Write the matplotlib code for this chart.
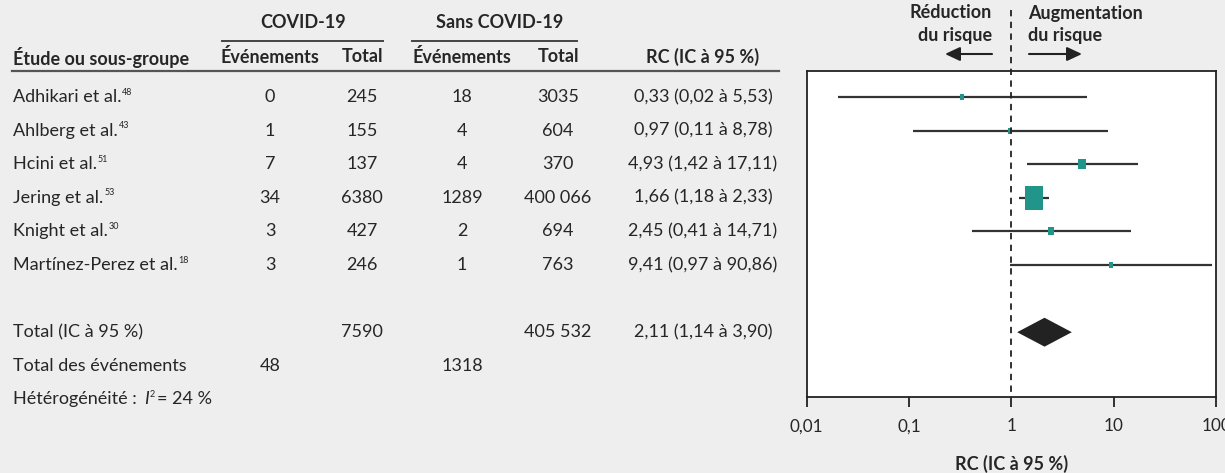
import matplotlib
matplotlib.use("Agg")
import matplotlib.pyplot as plt
from matplotlib.path import Path
from matplotlib import transforms

# ---- data -------------------------------------------------------------
studies = ["Adhikari et al.", "Ahlberg et al.", "Hcini et al.",
           "Jering et al.", "Knight et al.", "Martínez-Perez et al."]
refs = ["48", "43", "51", "53", "30", "18"]
covid_events = ["0", "1", "7", "34", "3", "3"]
covid_total = ["245", "155", "137", "6380", "427", "246"]
nocovid_events = ["18", "4", "4", "1289", "2", "1"]
nocovid_total = ["3035", "604", "370", "400 066", "694", "763"]
odds_ratio = [0.33, 0.97, 4.93, 1.66, 2.45, 9.41]
ci_low = [0.02, 0.11, 1.42, 1.18, 0.41, 0.97]
ci_high = [5.53, 8.78, 17.11, 2.33, 14.71, 90.86]
weights = [5, 5, 14, 63, 8, 5]          # study weights (%)
pooled = [2.11, 1.14, 3.90]             # OR, lower, upper
total_covid = "7590"
total_nocovid = "405 532"
events_covid = "48"
events_nocovid = "1318"
i2_value = 24
xticks = [0.01, 0.1, 1, 10, 100]
xtick_labels = ["0,01", "0,1", "1", "10", "100"]

# ---- style ------------------------------------------------------------
FONT = "Lato"
plt.rcParams["font.family"] = [FONT, "DejaVu Sans"]
BG = "#eeeeee"
TXT = "#262626"
TEAL = "#22958b"
FS = 13
SUP = 6.5

W, H = 1225, 473
fig = plt.figure(figsize=(W / 100, H / 100), dpi=100, facecolor=BG)

# overlay in pixel coordinates for the table part
ov = fig.add_axes([0, 0, 1, 1], zorder=0)
ov.set_xlim(0, W)
ov.set_ylim(H, 0)
ov.axis("off")

# forest plot axes
left, right, top, bottom = 806.7, 1216, 71, 397
ax = fig.add_axes([left / W, (H - bottom) / H, (right - left) / W, (bottom - top) / H], zorder=2)
ax.set_facecolor("white")
ax.set_xscale("log")
ax.set_xlim(0.01, 100)
row0, step = 97, 33.6
ax.set_ylim((bottom - row0) / step, (top - row0) / step)
ax.set_yticks([])
ax.set_xticks(xticks)
ax.set_xticklabels(xtick_labels, fontsize=12.3, color=TXT)
ax.minorticks_off()
ax.tick_params(axis="x", length=7.3, width=1.3, color="#222222", pad=8, direction="out")
for s in ax.spines.values():
    s.set_color("#222222")
    s.set_linewidth(1.3)

rows = list(range(len(studies)))
row_total, row_events, row_het = 7, 8, 9

# confidence intervals and weighted boxes
ax.hlines(rows, ci_low, ci_high, color="#333333", lw=1.6, zorder=3)
box = Path([(-0.37, -0.5), (0.37, -0.5), (0.37, 0.5), (-0.37, 0.5), (-0.37, -0.5)],
           [Path.MOVETO, Path.LINETO, Path.LINETO, Path.LINETO, Path.CLOSEPOLY])
for y, orv, w in zip(rows, odds_ratio, weights):
    ax.plot(orv, y, marker=box, markersize=2.9 * w ** 0.5 * 0.72,
            color=TEAL, mec=TEAL, mew=0, ls="none", zorder=4)

# pooled diamond
p_or, p_lo, p_hi = pooled
ax.fill([p_lo, p_or, p_hi, p_or], [row_total, row_total - 0.43, row_total, row_total + 0.43],
        color="#222222", zorder=4, lw=0)

# line of no effect, extended into the header
xline = transforms.blended_transform_factory(ax.transData, ov.transData)
ax.plot([1, 1], [10, bottom], transform=xline, clip_on=False,
        color="#222222", lw=1.3, dashes=(3.5, 3), zorder=5)

ax.set_xlabel("RC (IC à 95 %)", fontsize=FS, fontweight="bold", color=TXT, labelpad=15)

# ---- table text -------------------------------------------------------
tr = transforms.blended_transform_factory(ov.transData, ax.transData)
col_label, col_ce, col_ct, col_ne, col_nt, col_rc = 13, 270, 362, 462, 558, 703


def fmt(v):
    return f"{v:.2f}".replace(".", ",")


def put(x, y, s, ha="center", **kw):
    return ov.text(x, y, s, transform=tr, ha=ha, va="center", fontsize=FS, color=TXT,
                   clip_on=False, **kw)


def sup(prev, s, dx=0.6):
    return ov.annotate(s, xy=(1, 1), xycoords=prev, xytext=(dx, 1.0),
                       textcoords="offset points", ha="left", va="top",
                       fontsize=SUP, color=TXT)


for y, name, ref, a, b, c, d, orv, lo, hi in zip(rows, studies, refs, covid_events, covid_total,
                                                   nocovid_events, nocovid_total,
                                                   odds_ratio, ci_low, ci_high):
    t = put(col_label, y, name, ha="left")
    sup(t, ref)
    put(col_ce, y, a)
    put(col_ct, y, b)
    put(col_ne, y, c)
    put(col_nt, y, d)
    put(col_rc, y, f"{fmt(orv)} ({fmt(lo)} à {fmt(hi)})")

put(col_label, row_total, "Total (IC à 95 %)", ha="left")
put(col_ct, row_total, total_covid)
put(col_nt, row_total, total_nocovid)
put(col_rc, row_total, f"{fmt(p_or)} ({fmt(p_lo)} à {fmt(p_hi)})")
put(col_label, row_events, "Total des événements", ha="left")
put(col_ce, row_events, events_covid)
put(col_ne, row_events, events_nocovid)

# heterogeneity line: label, italic I, superscript 2, value
t1 = put(col_label, row_het, "Hétérogénéité :", ha="left")
t2 = ov.annotate("I", xy=(1, 0), xycoords=t1, xytext=(5, 0), textcoords="offset points",
                 ha="left", va="bottom", fontsize=FS, color=TXT, style="italic")
sup(t2, "2", dx=0.8)
ov.annotate(f"= {i2_value} %", xy=(1, 0), xycoords=t2,
            xytext=(6.0, 0), textcoords="offset points",
            ha="left", va="bottom", fontsize=FS, color=TXT)

# ---- headers ----------------------------------------------------------
hk = dict(fontsize=FS, fontweight="bold", color=TXT, va="center")
ov.text(303, 23, "COVID-19", ha="center", **hk)
ov.text(500, 23, "Sans COVID-19", ha="center", **hk)
ov.plot([222, 383], [41, 41], color="#444444", lw=1.4)
ov.plot([412, 577], [41, 41], color="#444444", lw=1.4)
ov.text(col_label, 57, "Étude ou sous-groupe", ha="left", **hk)
ov.text(col_ce, 57, "Événements", ha="center", **hk)
ov.text(col_ct, 57, "Total", ha="center", **hk)
ov.text(col_ne, 57, "Événements", ha="center", **hk)
ov.text(col_nt, 57, "Total", ha="center", **hk)
ov.text(col_rc, 57, "RC (IC à 95 %)", ha="center", **hk)
ov.plot([12, 779], [71, 71], color="#555555", lw=1.6)

# direction labels and arrows
ov.text(992, 13, "Réduction", ha="right", **hk)
ov.text(992, 35, "du risque", ha="right", **hk)
ov.text(1028, 13, "Augmentation", ha="left", **hk)
ov.text(1028, 35, "du risque", ha="left", **hk)
arrow = dict(arrowstyle="-|>,head_length=0.75,head_width=0.35", color="#222222", lw=1.5,
             shrinkA=0, shrinkB=0, mutation_scale=12)
ov.annotate("", xy=(945, 54), xytext=(992, 54), arrowprops=arrow)
ov.annotate("", xy=(1082, 54), xytext=(1029, 54), arrowprops=arrow)

fig.savefig("out.png", dpi=100, facecolor=BG)
